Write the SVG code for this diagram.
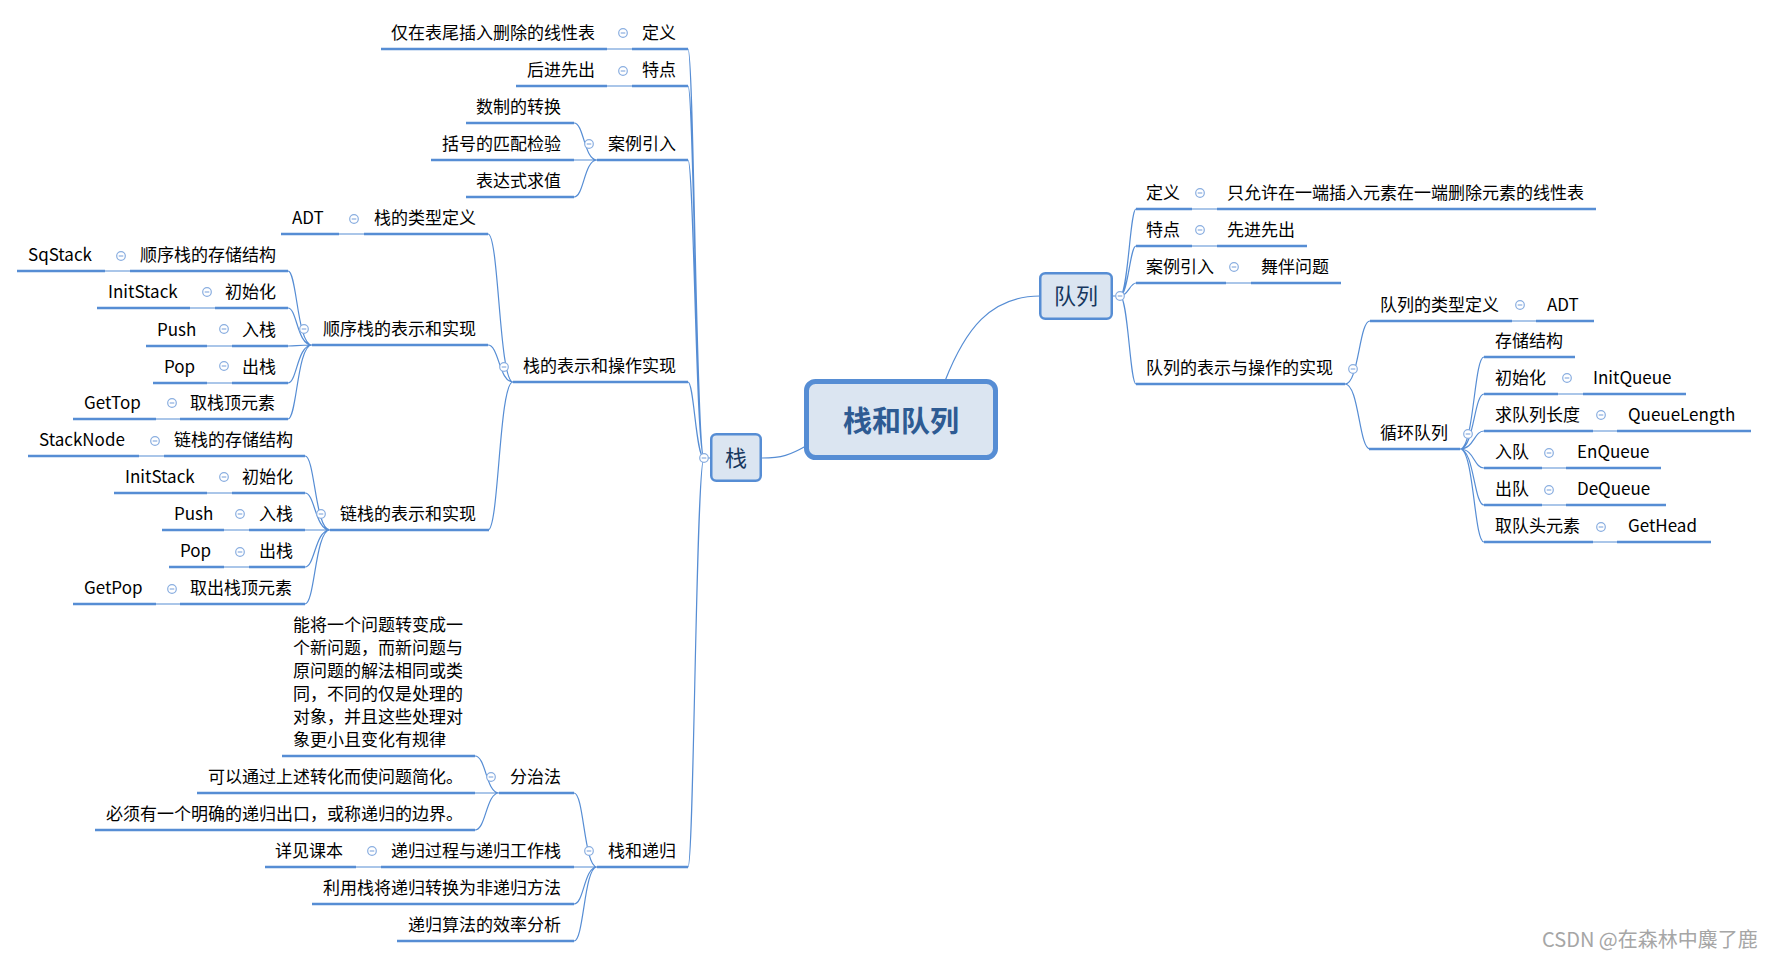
<svg xmlns="http://www.w3.org/2000/svg" xmlns:xlink="http://www.w3.org/1999/xlink" width="1768" height="958" viewBox="0 0 1768 958">
<style>
.t{font-family:"Noto Sans CJK SC","Noto Sans",sans-serif;font-size:17px;fill:#000}
.u{stroke:#568DD4;stroke-width:2.6;fill:none}
.c{stroke:#568DD4;stroke-width:1.2;fill:none}
.root{fill:#DBE5F1;stroke:#568DD4;stroke-width:5}
.mid{fill:#DBE5F1;stroke:#568DD4;stroke-width:2.5}
.rt{font-family:"Noto Sans CJK SC",sans-serif;font-size:29px;font-weight:bold;fill:#2E5B93}
.mt{font-family:"Noto Sans CJK SC",sans-serif;font-size:22px;fill:#17375E}
.wm{font-family:"Noto Sans CJK SC",sans-serif;font-size:20px;fill:#A6A6A6}
</style>
<defs>
<g id="m"><circle r="4.3" fill="#fff" stroke="#8AAEE0" stroke-width="1.2"/><line x1="-2.3" y1="0" x2="2.3" y2="0" stroke="#8AAEE0" stroke-width="1.2"/></g>
</defs>
<rect width="1768" height="958" fill="#fff"/>
<g id="connectors">
<path class="c" d="M762,458 C782,458 790,455 806,446"/>
<path class="c" d="M945,381 C965,330 990,296 1040,296"/>
<path class="c" d="M711,458 H704 C696,458 694,49 688,49 M704,458 C696,458 694,86 688,86 M704,458 C696,458 694,160 688,160 M704,458 C696,458 694,382 688,382 M704,458 C696,458 694,867 688,867"/>
<path class="c" d="M597,160 C584,160 584,123 574,123 M597,160 H574 M597,160 C584,160 584,197 574,197"/>
<path class="c" d="M513,382 C499,382 499,234 488,234 M513,382 C499,382 499,345 488,345 M513,382 C499,382 499,530 488,530"/>
<path class="c" d="M312,345 C297,345 297,271 288,271 M312,345 C297,345 297,308 288,308 M312,345 C297,345 297,346 288,346 M312,345 C297,345 297,383 288,383 M312,345 C297,345 297,419 288,419"/>
<path class="c" d="M330,530 C315,530 315,456 305,456 M330,530 C315,530 315,493 305,493 M330,530 H305 M330,530 C315,530 315,567 305,567 M330,530 C315,530 315,604 305,604"/>
<path class="c" d="M597,867 C584,867 584,793 574,793 M597,867 H574 M597,867 C584,867 584,904 574,904 M597,867 C584,867 584,941 574,941"/>
<path class="c" d="M499,793 C486,793 486,756 475,756 M499,793 H475 M499,793 C486,793 486,830 475,830"/>
<path class="c" d="M607,49 H632 M607,86 H632 M339,234 H364 M105,271 H130 M190,308 H215 M207,346 H232 M207,383 H232 M156,419 H180 M139,456 H164 M207,493 H232 M224,530 H249 M224,567 H249 M156,604 H180 M356,867 H381"/>
<path class="c" d="M1113,296 H1120 C1128,296 1130,209 1136,209 M1120,296 C1128,296 1130,246 1136,246 M1120,296 C1128,296 1130,283 1136,283 M1120,296 C1128,296 1130,384 1136,384"/>
<path class="c" d="M1345,384 C1359,384 1359,321 1370,321 M1345,384 C1359,384 1359,449 1370,449"/>
<path class="c" d="M1460,449 C1474,449 1474,357 1484,357 M1460,449 C1474,449 1474,394 1484,394 M1460,449 C1474,449 1474,431 1484,431 M1460,449 C1474,449 1474,468 1484,468 M1460,449 C1474,449 1474,505 1484,505 M1460,449 C1474,449 1474,542 1484,542"/>
<path class="c" d="M1192,209 H1217 M1192,246 H1217 M1226,283 H1251 M1512,321 H1536 M1558,394 H1583 M1593,431 H1617 M1542,468 H1566 M1542,505 H1566 M1593,542 H1617"/>
</g>
<g id="root"><rect class="root" x="806.5" y="381.5" width="189" height="76" rx="9"/><text class="rt" x="901" y="432" text-anchor="middle">栈和队列</text></g>
<g id="n-stack"><rect class="mid" x="711.25" y="434.25" width="49.5" height="46.5" rx="5"/><text class="mt" x="736" y="466" text-anchor="middle">栈</text><use href="#m" x="704" y="458"/></g>
<g id="n-queue"><rect class="mid" x="1040.25" y="273.25" width="71.5" height="45.5" rx="5"/><text class="mt" x="1076" y="304" text-anchor="middle">队列</text><use href="#m" x="1120" y="296"/></g>

<g id="s-def"><path class="u" d="M632,49 H688"/><text class="t" x="642" y="39">定义</text><use href="#m" x="623" y="33"/></g>
<g id="s-def-1"><path class="u" d="M381,49 H607"/><text class="t" x="391" y="39">仅在表尾插入删除的线性表</text></g>
<g id="s-feat"><path class="u" d="M632,86 H688"/><text class="t" x="642" y="76">特点</text><use href="#m" x="623" y="71"/></g>
<g id="s-feat-1"><path class="u" d="M516,86 H607"/><text class="t" x="527" y="76">后进先出</text></g>
<g id="s-case"><path class="u" d="M597,160 H688"/><text class="t" x="608" y="150">案例引入</text><use href="#m" x="589" y="144"/></g>
<g id="s-case-1"><path class="u" d="M466,123 H574"/><text class="t" x="476" y="113">数制的转换</text></g>
<g id="s-case-2"><path class="u" d="M431,160 H574"/><text class="t" x="442" y="150">括号的匹配检验</text></g>
<g id="s-case-3"><path class="u" d="M466,197 H574"/><text class="t" x="476" y="187">表达式求值</text></g>
<g id="s-impl"><path class="u" d="M513,382 H688"/><text class="t" x="523" y="372">栈的表示和操作实现</text><use href="#m" x="504" y="367"/></g>
<g id="s-adt"><path class="u" d="M364,234 H488"/><text class="t" x="374" y="224">栈的类型定义</text><use href="#m" x="354" y="219"/></g>
<g id="s-adt-1"><path class="u" d="M281,234 H339"/><text class="t" x="292" y="224">ADT</text></g>
<g id="s-seq"><path class="u" d="M312,345 H488"/><text class="t" x="323" y="335">顺序栈的表示和实现</text><use href="#m" x="304" y="329"/></g>
<g id="s-seq-1"><path class="u" d="M130,271 H288"/><text class="t" x="140" y="261">顺序栈的存储结构</text><use href="#m" x="121" y="256"/></g>
<g id="s-seq-1a"><path class="u" d="M17,271 H105"/><text class="t" x="28" y="261">SqStack</text></g>
<g id="s-seq-2"><path class="u" d="M215,308 H288"/><text class="t" x="225" y="298">初始化</text><use href="#m" x="207" y="292"/></g>
<g id="s-seq-2a"><path class="u" d="M97,308 H190"/><text class="t" x="108" y="298">InitStack</text></g>
<g id="s-seq-3"><path class="u" d="M232,346 H288"/><text class="t" x="242" y="336">入栈</text><use href="#m" x="224" y="329"/></g>
<g id="s-seq-3a"><path class="u" d="M146,346 H207"/><text class="t" x="157" y="336">Push</text></g>
<g id="s-seq-4"><path class="u" d="M232,383 H288"/><text class="t" x="242" y="373">出栈</text><use href="#m" x="224" y="366"/></g>
<g id="s-seq-4a"><path class="u" d="M153,383 H207"/><text class="t" x="164" y="373">Pop</text></g>
<g id="s-seq-5"><path class="u" d="M180,419 H288"/><text class="t" x="190" y="409">取栈顶元素</text><use href="#m" x="172" y="403"/></g>
<g id="s-seq-5a"><path class="u" d="M73,419 H156"/><text class="t" x="84" y="409">GetTop</text></g>
<g id="s-link"><path class="u" d="M330,530 H489"/><text class="t" x="340" y="520">链栈的表示和实现</text><use href="#m" x="321" y="514"/></g>
<g id="s-link-1"><path class="u" d="M164,456 H305"/><text class="t" x="174" y="446">链栈的存储结构</text><use href="#m" x="155" y="441"/></g>
<g id="s-link-1a"><path class="u" d="M28,456 H139"/><text class="t" x="39" y="446">StackNode</text></g>
<g id="s-link-2"><path class="u" d="M232,493 H305"/><text class="t" x="242" y="483">初始化</text><use href="#m" x="224" y="477"/></g>
<g id="s-link-2a"><path class="u" d="M114,493 H207"/><text class="t" x="125" y="483">InitStack</text></g>
<g id="s-link-3"><path class="u" d="M249,530 H305"/><text class="t" x="259" y="520">入栈</text><use href="#m" x="240" y="514"/></g>
<g id="s-link-3a"><path class="u" d="M162,530 H224"/><text class="t" x="174" y="520">Push</text></g>
<g id="s-link-4"><path class="u" d="M249,567 H305"/><text class="t" x="259" y="557">出栈</text><use href="#m" x="240" y="552"/></g>
<g id="s-link-4a"><path class="u" d="M169,567 H224"/><text class="t" x="180" y="557">Pop</text></g>
<g id="s-link-5"><path class="u" d="M180,604 H305"/><text class="t" x="190" y="594">取出栈顶元素</text><use href="#m" x="172" y="589"/></g>
<g id="s-link-5a"><path class="u" d="M73,604 H156"/><text class="t" x="84" y="594">GetPop</text></g>
<g id="s-rec"><path class="u" d="M597,867 H688"/><text class="t" x="608" y="857">栈和递归</text><use href="#m" x="589" y="851"/></g>
<g id="s-rec-1"><path class="u" d="M499,793 H574"/><text class="t" x="510" y="783">分治法</text><use href="#m" x="491" y="777"/></g>
<g id="s-rec-1a"><path class="u" d="M282,756 H475"/><text class="t" x="293" y="631">能将一个问题转变成一<tspan x="293" dy="23">个新问题，而新问题与</tspan><tspan x="293" dy="23">原问题的解法相同或类</tspan><tspan x="293" dy="23">同，不同的仅是处理的</tspan><tspan x="293" dy="23">对象，并且这些处理对</tspan><tspan x="293" dy="23">象更小且变化有规律</tspan></text></g>
<g id="s-rec-1b"><path class="u" d="M197,793 H475"/><text class="t" x="208" y="783">可以通过上述转化而使问题简化。</text></g>
<g id="s-rec-1c"><path class="u" d="M95,830 H475"/><text class="t" x="106" y="820">必须有一个明确的递归出口，或称递归的边界。</text></g>
<g id="s-rec-2"><path class="u" d="M381,867 H574"/><text class="t" x="391" y="857">递归过程与递归工作栈</text><use href="#m" x="372" y="851"/></g>
<g id="s-rec-2a"><path class="u" d="M265,867 H356"/><text class="t" x="275" y="857">详见课本</text></g>
<g id="s-rec-3"><path class="u" d="M312,904 H574"/><text class="t" x="323" y="894">利用栈将递归转换为非递归方法</text></g>
<g id="s-rec-4"><path class="u" d="M397,941 H574"/><text class="t" x="408" y="931">递归算法的效率分析</text></g>

<g id="q-def"><path class="u" d="M1136,209 H1192"/><text class="t" x="1146" y="199">定义</text><use href="#m" x="1200" y="193"/></g>
<g id="q-def-1"><path class="u" d="M1217,209 H1596"/><text class="t" x="1227" y="199">只允许在一端插入元素在一端删除元素的线性表</text></g>
<g id="q-feat"><path class="u" d="M1136,246 H1192"/><text class="t" x="1146" y="236">特点</text><use href="#m" x="1200" y="230"/></g>
<g id="q-feat-1"><path class="u" d="M1217,246 H1307"/><text class="t" x="1227" y="236">先进先出</text></g>
<g id="q-case"><path class="u" d="M1136,283 H1226"/><text class="t" x="1146" y="273">案例引入</text><use href="#m" x="1234" y="267"/></g>
<g id="q-case-1"><path class="u" d="M1251,283 H1341"/><text class="t" x="1261" y="273">舞伴问题</text></g>
<g id="q-impl"><path class="u" d="M1136,384 H1345"/><text class="t" x="1146" y="374">队列的表示与操作的实现</text><use href="#m" x="1353" y="369"/></g>
<g id="q-adt"><path class="u" d="M1370,321 H1512"/><text class="t" x="1380" y="311">队列的类型定义</text><use href="#m" x="1520" y="305"/></g>
<g id="q-adt-1"><path class="u" d="M1536,321 H1594"/><text class="t" x="1547" y="311">ADT</text></g>
<g id="q-circ"><path class="u" d="M1369,449 H1460"/><text class="t" x="1380" y="439">循环队列</text><use href="#m" x="1468" y="434"/></g>
<g id="q-c1"><path class="u" d="M1484,357 H1575"/><text class="t" x="1495" y="347">存储结构</text></g>
<g id="q-c2"><path class="u" d="M1484,394 H1558"/><text class="t" x="1495" y="384">初始化</text><use href="#m" x="1567" y="378"/></g>
<g id="q-c2a"><path class="u" d="M1583,394 H1686"/><text class="t" x="1593" y="384">InitQueue</text></g>
<g id="q-c3"><path class="u" d="M1484,431 H1593"/><text class="t" x="1495" y="421">求队列长度</text><use href="#m" x="1601" y="415"/></g>
<g id="q-c3a"><path class="u" d="M1617,431 H1751"/><text class="t" x="1628" y="421">QueueLength</text></g>
<g id="q-c4"><path class="u" d="M1484,468 H1542"/><text class="t" x="1495" y="458">入队</text><use href="#m" x="1549" y="453"/></g>
<g id="q-c4a"><path class="u" d="M1566,468 H1661"/><text class="t" x="1577" y="458">EnQueue</text></g>
<g id="q-c5"><path class="u" d="M1484,505 H1542"/><text class="t" x="1495" y="495">出队</text><use href="#m" x="1549" y="490"/></g>
<g id="q-c5a"><path class="u" d="M1566,505 H1666"/><text class="t" x="1577" y="495">DeQueue</text></g>
<g id="q-c6"><path class="u" d="M1484,542 H1593"/><text class="t" x="1495" y="532">取队头元素</text><use href="#m" x="1601" y="527"/></g>
<g id="q-c6a"><path class="u" d="M1617,542 H1711"/><text class="t" x="1628" y="532">GetHead</text></g>

<text class="wm" x="1542" y="947">CSDN @在森林中麋了鹿</text>
</svg>
